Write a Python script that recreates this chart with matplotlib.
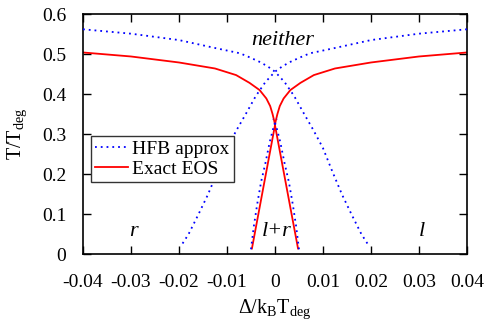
import numpy as np
import matplotlib
matplotlib.use("Agg")
import matplotlib.pyplot as plt
from matplotlib.ticker import FuncFormatter

plt.rcParams['font.family'] = ['Liberation Serif', 'DejaVu Serif']
plt.rcParams['mathtext.fontset'] = 'custom'
plt.rcParams['mathtext.rm'] = 'Liberation Serif'
plt.rcParams['mathtext.it'] = 'Liberation Serif:italic'
plt.rcParams['axes.unicode_minus'] = False

# Exact EOS boundary (left branch; right branch is its mirror image)
exact_delta = [-0.04, -0.03, -0.02, -0.0125, -0.0081, -0.0053, -0.0032, -0.0018,
               -0.001, -0.0005, -0.0001, 0.0, 0.0048]
exact_T = [0.504, 0.494, 0.479, 0.464, 0.4475, 0.428, 0.410, 0.389,
           0.370, 0.350, 0.330, 0.322, 0.014]

# HFB approximation: outer boundary (top-left curve to cusp, then down-right arm)
hfb_delta = [-0.04, -0.03, -0.02, -0.0128, -0.0073, -0.0053, -0.0031, -0.0015, 0.0,
             0.002, 0.004, 0.006, 0.008, 0.010, 0.012, 0.014, 0.016, 0.018, 0.0196]
hfb_T = [0.562, 0.551, 0.535, 0.516, 0.502, 0.492, 0.480, 0.469, 0.456,
         0.430, 0.395, 0.352, 0.310, 0.265, 0.205, 0.148, 0.098, 0.050, 0.020]

# HFB approximation: inner l+r boundary (left arm; right arm mirrored)
hfb_in_delta = [-0.0050, -0.0044, -0.0037, -0.0029, -0.0020, -0.0011, -0.0002, 0.0004]
hfb_in_T = [0.012, 0.070, 0.125, 0.180, 0.227, 0.280, 0.322, 0.338]

region_labels = ['neither', 'r', 'l+r', 'l']
region_delta = [0.0017, -0.0295, 0.0003, 0.0307]
region_T = [0.535, 0.056, 0.056, 0.056]

fig = plt.figure(figsize=(4.86, 3.2), dpi=100)
ax = fig.add_axes([0.1708, 0.206, 0.790, 0.750])

blue = '#0000ff'
red = '#ff0000'
dot = (0, (1.0, 2.2))

ed = np.array(exact_delta); eT = np.array(exact_T)
hd = np.array(hfb_delta); hT = np.array(hfb_T)
id_ = np.array(hfb_in_delta); iT = np.array(hfb_in_T)

ax.plot(ed, eT, color=red, lw=1.3, label='Exact EOS', zorder=2)
ax.plot(-ed, eT, color=red, lw=1.3, zorder=2)

ax.plot(hd, hT, color=blue, ls=dot, lw=1.3, label='HFB approx', zorder=3)
ax.plot(-hd, hT, color=blue, ls=dot, lw=1.3, zorder=3)
ax.plot(id_, iT, color=blue, ls=dot, lw=1.3, zorder=3)
ax.plot(-id_, iT, color=blue, ls=dot, lw=1.3, zorder=3)

for lab, x, y in zip(region_labels, region_delta, region_T):
    ax.text(x, y, lab, style='italic', fontsize=16, ha='center', va='center')

ax.set_xlim(-0.04, 0.04)
ax.set_ylim(0, 0.6)
ax.set_xticks(np.arange(-0.04, 0.0401, 0.01))
ax.set_yticks(np.arange(0, 0.601, 0.1))
fmt = FuncFormatter(lambda v, p: '%g' % round(v, 4))
ax.xaxis.set_major_formatter(fmt)
ax.yaxis.set_major_formatter(fmt)
ax.tick_params(direction='in', top=True, right=True, length=6, width=1,
               labelsize=14)
ax.tick_params(axis='x', pad=14)
ax.tick_params(axis='y', pad=12)
for s in ax.spines.values():
    s.set_linewidth(1.2)

ax.set_xlabel(r'$\Delta/\mathrm{k_B T_{deg}}$', fontsize=14.5, labelpad=5)
ax.set_ylabel(r'$\mathrm{T/T_{deg}}$', fontsize=14.5, labelpad=9)

handles, labels = ax.get_legend_handles_labels()
order = [labels.index('HFB approx'), labels.index('Exact EOS')]
leg = ax.legend([handles[i] for i in order], [labels[i] for i in order],
                loc='lower left', bbox_to_anchor=(0.02, 0.30), fontsize=14,
                frameon=True, fancybox=False, framealpha=1, edgecolor='#333333',
                handlelength=1.7, borderpad=0.2, labelspacing=0.15,
                handletextpad=0.25, borderaxespad=0)
leg.get_frame().set_linewidth(1.0)
leg.set_zorder(5)

fig.savefig('out.png', dpi=100)
